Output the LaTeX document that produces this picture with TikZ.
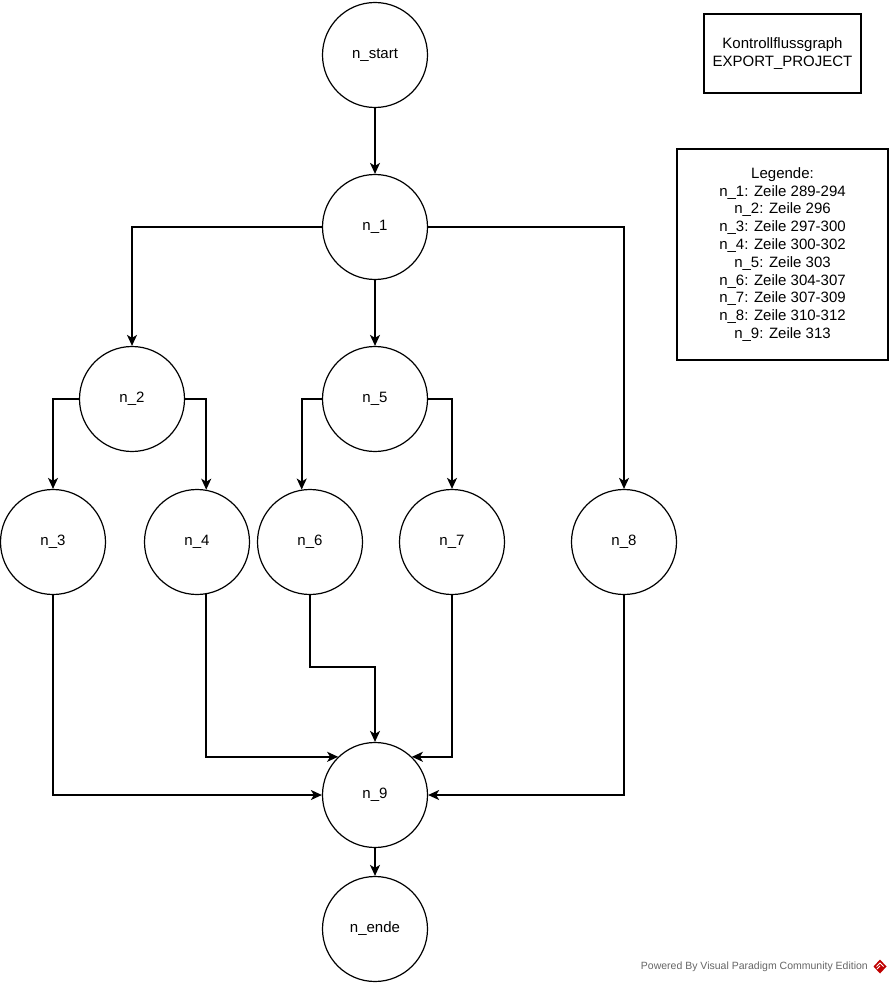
\documentclass[tikz,border=0pt]{standalone}
\usepackage{fontspec}
\setmainfont{Liberation Sans}
\usetikzlibrary{arrows.meta}
\begin{document}
\begin{tikzpicture}[x=1pt,y=-1pt,
  state/.style={circle,draw,line width=1.2pt,minimum size=105pt,inner sep=0pt,font=\fontsize{15}{18}\selectfont},
  infobox/.style={draw,line width=1.2pt,inner sep=0pt,align=center,font=\fontsize{15}{17.8}\selectfont},
  arr/.style={line width=1.6pt,-{Stealth[length=11pt,width=10pt,inset=3pt]}}]
\useasboundingbox[fill=white] (0,0) rectangle (893,984);

% states
\node[state] (ns) at (375,55) {n\_start};
\node[state] (n1) at (375,227) {n\_1};
\node[state] (n2) at (132,399) {n\_2};
\node[state] (n5) at (375,399) {n\_5};
\node[state] (n3) at (53,542) {n\_3};
\node[state] (n4) at (197,542) {n\_4};
\node[state] (n6) at (310,542) {n\_6};
\node[state] (n7) at (452,542) {n\_7};
\node[state] (n8) at (624,542) {n\_8};
\node[state] (n9) at (375,795) {n\_9};
\node[state] (ne) at (375,929) {n\_ende};

% info boxes
\node[infobox,minimum width=157pt,minimum height=79pt] (title) at (782.5,53.5)
  {Kontrollflussgraph\\EXPORT\_PROJECT};
\node[infobox,minimum width=211pt,minimum height=211pt] (legend) at (782.5,254.5)
  {Legende:\\n\_1: Zeile 289-294\\n\_2: Zeile 296\\n\_3: Zeile 297-300\\n\_4: Zeile 300-302\\n\_5: Zeile 303\\n\_6: Zeile 304-307\\n\_7: Zeile 307-309\\n\_8: Zeile 310-312\\n\_9: Zeile 313};

% bend points
\coordinate (b56) at (n6.99 |- n5.west);
\coordinate (b69) at (n9.north |- 0,667);

% control flow
\draw[arr] (ns.south) -- (n1.north);
\draw[arr] (n1.west) -| (n2.north);
\draw[arr] (n1.south) -- (n5.north);
\draw[arr] (n1.east) -| (n8.north);
\draw[arr] (n2.west) -| (n3.north);
\draw[arr] (n2.east) -| (n4.80);
\draw[arr] (n5.west) -- (b56) -- (n6.99);
\draw[arr] (n5.east) -| (n7.north);
\draw[arr] (n3.south) |- (n9.west);
\draw[arr] (n4.-80) |- (n9.134);
\draw[arr] (n6.south) |- (b69) -- (n9.north);
\draw[arr] (n7.south) |- (n9.46);
\draw[arr] (n8.south) |- (n9.east);
\draw[arr] (n9.south) -- (ne.north);

% footer
\node[anchor=east,text=black!60,font=\fontsize{10.5}{12}\selectfont,inner sep=0pt] (wm) at (868,967)
  {Powered By Visual Paradigm Community Edition};
\fill[red!75!black] (880,959.5) -- (886.5,966.5) -- (880,973.5) -- (873.5,966.5) -- cycle;
\draw[white,line width=0.8pt] (876.5,966.5) -- (880,963) -- (883.5,966.5);
\draw[white,line width=0.8pt] (877,969) -- (880,966);
\end{tikzpicture}
\end{document}
